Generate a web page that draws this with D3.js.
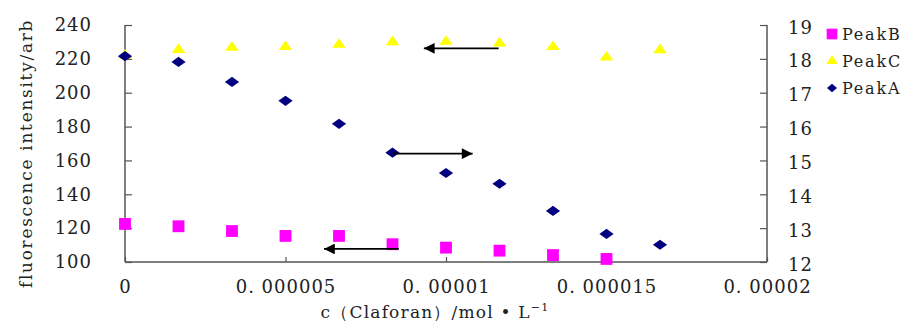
<html><head><meta charset="utf-8"/>
<title>Claforan fluorescence</title>
<script src="https://d3js.org/d3.v7.min.js"></script>
<style>
  body { margin: 0; padding: 0; background: #fff; }
  svg text { font-family: 'DejaVu Serif', 'Liberation Serif', serif; fill: #222; }
</style>
</head>
<body>
<div id="chart"></div>
<script>
// concentration (mol/L) at each measurement
const conc = [0, 1.667e-6, 3.333e-6, 5e-6, 6.667e-6, 8.333e-6, 1e-5, 1.1667e-5, 1.3333e-5, 1.5e-5, 1.6667e-5];

// left axis series
const peakB = [122.5, 121.1, 118.3, 115.4, 115.4, 110.5, 108.5, 106.7, 104.1, 101.8];
const peakC = [222, 225.4, 226.7, 227.1, 228.4, 230, 230.2, 229.2, 227.1, 220.9, 225.2];
// right axis series
const peakA = [18.08, 17.91, 17.32, 16.76, 16.08, 15.23, 14.63, 14.31, 13.51, 12.83, 12.51];

const xTicks = [0, 5e-6, 1e-5, 1.5e-5, 2e-5];
const xTickLabels = ["0", "0. 000005", "0. 00001", "0. 000015", "0. 00002"];
const leftTicks = [100, 120, 140, 160, 180, 200, 220, 240];
const rightTicks = [12, 13, 14, 15, 16, 17, 18, 19];

// annotation arrows: [fromX, toX, y, axis]
const arrows = [
  [1.164e-5, 9.31e-6, 226.2, "left"],
  [8.34e-6, 1.083e-5, 15.2, "right"],
  [8.53e-6, 6.2e-6, 107.7, "left"]
];

const width = 903, height = 325;
const m = { left: 125, right: 136, top: 25, bottom: 63 };

const svg = d3.select("#chart").append("svg")
  .attr("width", width).attr("height", height);

const defs = svg.append("defs");
defs.append("marker")
  .attr("id", "head")
  .attr("viewBox", "0 0 10 10")
  .attr("refX", 10).attr("refY", 5)
  .attr("markerWidth", 8).attr("markerHeight", 6)
  .attr("markerUnits", "strokeWidth")
  .attr("orient", "auto")
  .append("path").attr("d", "M0,0 L10,5 L0,10 Z").attr("fill", "#000");

const x = d3.scaleLinear().domain([0, 2e-5]).range([m.left, width - m.right]);
const yL = d3.scaleLinear().domain([100, 240]).range([height - m.bottom, m.top]);
const yR = d3.scaleLinear().domain([12, 19]).range([height - m.bottom, m.top]);

const axisColor = "#555";

// axes
const gx = svg.append("g")
  .attr("transform", `translate(0,${height - m.bottom})`)
  .call(d3.axisBottom(x).tickValues(xTicks).tickSize(-5).tickFormat((d, i) => xTickLabels[i]).tickPadding(18));
const gl = svg.append("g")
  .attr("transform", `translate(${m.left},0)`)
  .call(d3.axisLeft(yL).tickValues(leftTicks).tickSize(-7).tickPadding(33));
const gr = svg.append("g")
  .attr("transform", `translate(${width - m.right},0)`)
  .call(d3.axisRight(yR).tickValues(rightTicks).tickFormat(d3.format("d")).tickSize(-7).tickPadding(21));

[gx, gl, gr].forEach(g => {
  g.select(".domain").attr("stroke", axisColor).attr("stroke-width", 1.5);
  g.selectAll(".tick line").attr("stroke", axisColor).attr("stroke-width", 1.2);
  g.selectAll(".tick text").attr("font-size", 18).attr("letter-spacing", 1)
    .attr("font-family", "'DejaVu Serif', serif").attr("fill", "#222");
});
gx.select(".domain").attr("d", `M${m.left},0H${width - m.right}`);
gl.select(".domain").attr("d", `M0,${m.top}V${height - m.bottom}`);
gr.select(".domain").attr("d", `M0,${m.top}V${height - m.bottom}`);
gr.selectAll(".tick text").attr("dy", "0.45em");

// titles
svg.append("text")
  .attr("transform", `translate(32,${(m.top + height - m.bottom) / 2 + 10}) rotate(-90)`)
  .attr("text-anchor", "middle")
  .attr("font-size", 17).attr("letter-spacing", 1.7)
  .text("fluorescence intensity/arb");

const xt = svg.append("text")
  .attr("x", 435).attr("y", 318)
  .attr("text-anchor", "middle")
  .attr("font-size", 17).attr("letter-spacing", 1.2);
xt.append("tspan").text("c（Claforan）/mol • L");
xt.append("tspan").attr("dy", -7).attr("font-size", 11).text("−1");

// markers
const sym = {
  B: d3.symbol().type(d3.symbolSquare).size(140),
  C: d3.symbol().type(d3.symbolTriangle).size(60),
  A: d3.symbol().type(d3.symbolDiamond2).size(90)
};

svg.append("g").selectAll("path").data(peakB).join("path")
  .attr("d", sym.B)
  .attr("transform", (d, i) => `translate(${x(conc[i])},${yL(d)})`)
  .attr("fill", "#ff00ff");

svg.append("g").selectAll("path").data(peakC).join("path")
  .attr("d", sym.C)
  .attr("transform", (d, i) => `translate(${x(conc[i])},${yL(d)}) scale(1.15,0.95)`)
  .attr("fill", "#ffff00");

svg.append("g").selectAll("path").data(peakA).join("path")
  .attr("d", sym.A)
  .attr("transform", (d, i) => `translate(${x(conc[i])},${yR(d)}) scale(1.2,0.85)`)
  .attr("fill", "#000080");

// arrows
svg.append("g").selectAll("line").data(arrows).join("line")
  .attr("x1", d => x(d[0]))
  .attr("x2", d => x(d[1]))
  .attr("y1", d => (d[3] === "left" ? yL : yR)(d[2]))
  .attr("y2", d => (d[3] === "left" ? yL : yR)(d[2]))
  .attr("stroke", "#000").attr("stroke-width", 1.8)
  .attr("marker-end", "url(#head)");

// legend
const legend = [
  { name: "PeakB", s: sym.B, c: "#ff00ff", t: "scale(0.9)" },
  { name: "PeakC", s: sym.C, c: "#ffff00", t: "scale(0.95,0.9)" },
  { name: "PeakA", s: sym.A, c: "#000080", t: "scale(0.85,0.7)" }
];
const lg = svg.append("g").selectAll("g").data(legend).join("g")
  .attr("transform", (d, i) => `translate(832,${34 + i * 27})`);
lg.append("path").attr("d", d => d.s()).attr("fill", d => d.c)
  .attr("transform", d => d.t);
lg.append("text").attr("x", 10).attr("y", 5.5)
  .attr("font-size", 16).attr("letter-spacing", 1.8)
  .text(d => d.name);
</script>
</body></html>
